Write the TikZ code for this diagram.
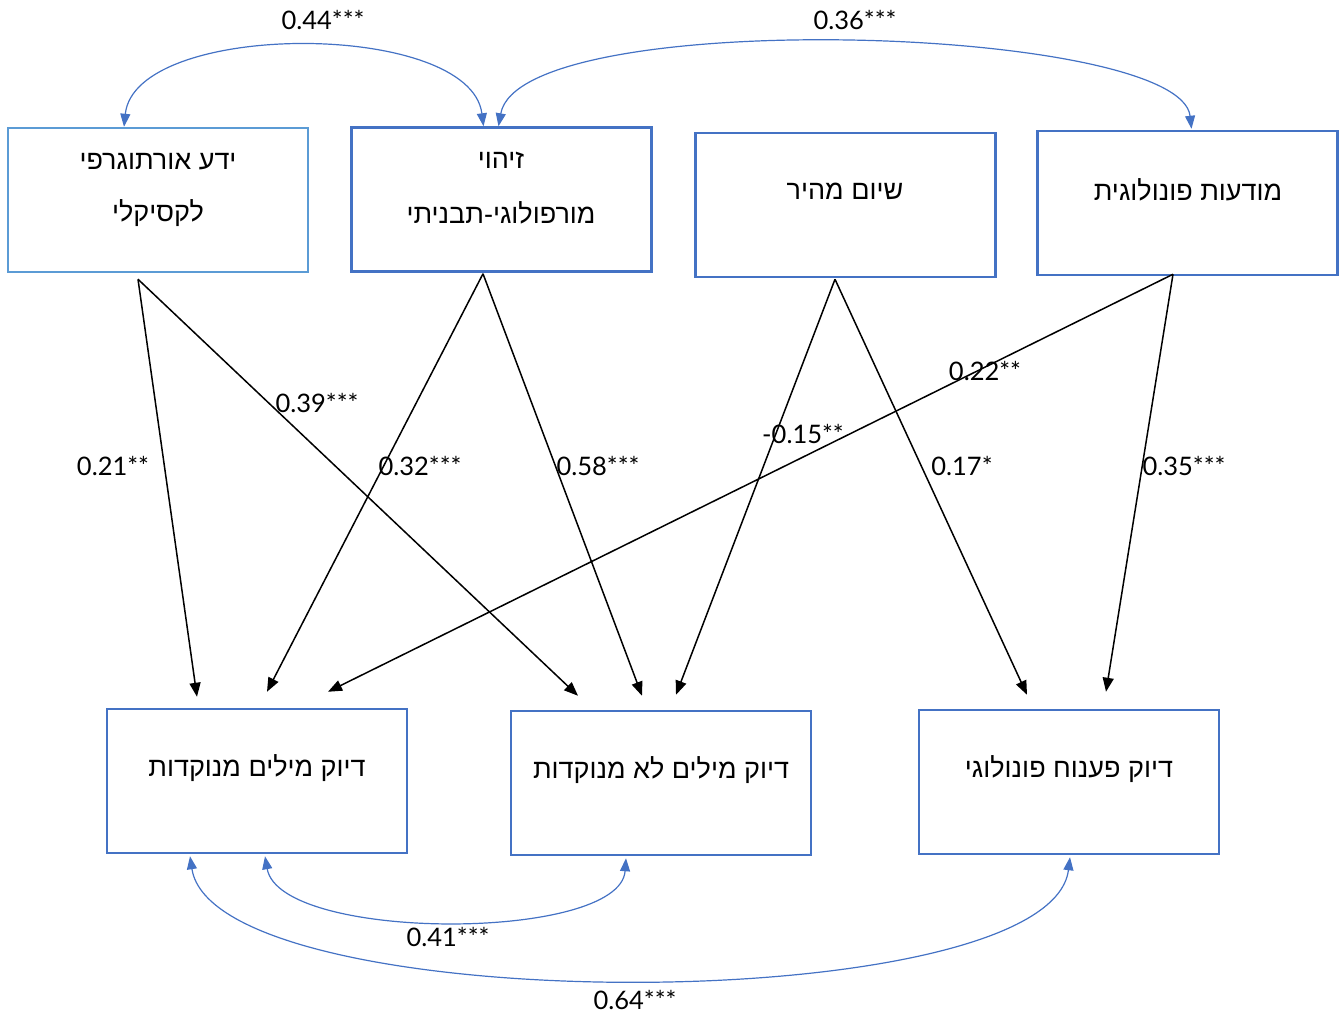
\documentclass[tikz,border=0pt]{standalone}
\usepackage{fontspec}
\usetikzlibrary{arrows.meta,calc}
\TeXXeTstate=1
\newfontfamily\heb[Script=Hebrew]{Liberation Sans}
\newfontfamily\numf{Lato}
\definecolor{boxblue}{HTML}{4472C4}
\definecolor{lightblue}{HTML}{5B9BD5}
\begin{document}
\begin{tikzpicture}[x=1pt,y=-1pt,
  box/.style={draw=boxblue,line width=2.5pt,rectangle,minimum width=300pt,minimum height=144pt,inner sep=0pt},
  htext/.style={font=\heb\fontsize{27}{32}\selectfont,inner sep=0pt},
  coef/.style={font=\numf\fontsize{25.5}{30}\selectfont,inner sep=0pt},
  arr/.style={line width=1.5pt,-{Triangle[length=14pt,width=11pt]}},
  corr/.style={draw=boxblue,line width=1.2pt,{Triangle[length=13pt,width=10pt]}-{Triangle[length=13pt,width=10pt]},fill=none},
]
\useasboundingbox (0,0) rectangle (1339,1015);
% boxes
\node[box,draw=lightblue] (A) at (158,200) {};
\node[box] (B) at (501.5,199.5) {};
\node[box] (C) at (845.5,205) {};
\node[box] (D) at (1187.5,203) {};
\node[box] (E) at (257,781) {};
\node[box] (F) at (661,783) {};
\node[box] (G) at (1069,782) {};
% texts
\node[htext] (tA1) at (158,162) {\beginR ידע אורתוגרפי\endR};
\node[htext] (tA2) at (158,213) {\beginR לקסיקלי\endR};
\node[htext] (tB1) at (501,160) {\beginR זיהוי\endR};
\node[htext] (tB2) at (501,213) {\beginR מורפולוגי-תבניתי\endR};
\node[htext] (tC) at (845,191) {\beginR שיום מהיר\endR};
\node[htext] (tD) at (1188,190) {\beginR מודעות פונולוגית\endR};
\node[htext] (tE) at (257,768) {\beginR דיוק מילים מנוקדות\endR};
\node[htext] (tF) at (661,770) {\beginR דיוק מילים לא מנוקדות\endR};
\node[htext] (tG) at (1069,769) {\beginR דיוק פענוח פונולוגי\endR};
% regression paths
\draw[arr] ($(A.south)+(-20,6)$) -- ($(E.north)+(-60,-11)$);
\draw[arr] ($(A.south)+(-20,6)$) -- ($(F.north)+(-83,-14)$);
\draw[arr] ($(B.south)+(-18.5,1)$) -- ($(E.north)+(10,-16)$);
\draw[arr] ($(B.south)+(-18.5,1)$) -- ($(F.north)+(-19,-14)$);
\draw[arr] ($(C.south)+(-10.5,1)$) -- ($(F.north)+(15,-15)$);
\draw[arr] ($(C.south)+(-10.5,1)$) -- ($(G.north)+(-42,-14)$);
\draw[arr] ($(D.south)+(-14.5,-2)$) -- ($(E.north)+(71,-16)$);
\draw[arr] ($(D.south)+(-14.5,-2)$) -- ($(G.north)+(37,-17)$);
% correlations
\draw[corr] ($(B.north)+(-18,0)$) .. controls (470,20) and (135,20) .. ($(A.north)+(-34,0)$);
\draw[corr] ($(B.north)+(-3,0)$) .. controls (520,5) and (1180,25) .. ($(D.north)+(4,-1)$);
\draw[corr] ($(E.south)+(8,2)$) .. controls (280,942) and (620,942) .. ($(F.south)+(-35,2)$);
\draw[corr] ($(E.south)+(-67,2)$) .. controls (215,1020) and (1050,1020) .. ($(G.south)+(1,2)$);
% coefficients
\node[coef] (c44) at (323,20) {0.44***};
\node[coef] (c36) at (855,20) {0.36***};
\node[coef] (c21) at (113,466) {0.21**};
\node[coef] (c39) at (317,403) {0.39***};
\node[coef] (c32) at (420,466) {0.32***};
\node[coef] (c58) at (598,466) {0.58***};
\node[coef] (c15) at (803,434) {-0.15**};
\node[coef] (c17) at (962,466) {0.17*};
\node[coef] (c22) at (985,371) {0.22**};
\node[coef] (c35) at (1184,466) {0.35***};
\node[coef] (c41) at (448,937) {0.41***};
\node[coef] (c64) at (635,1000) {0.64***};
\end{tikzpicture}
\end{document}
